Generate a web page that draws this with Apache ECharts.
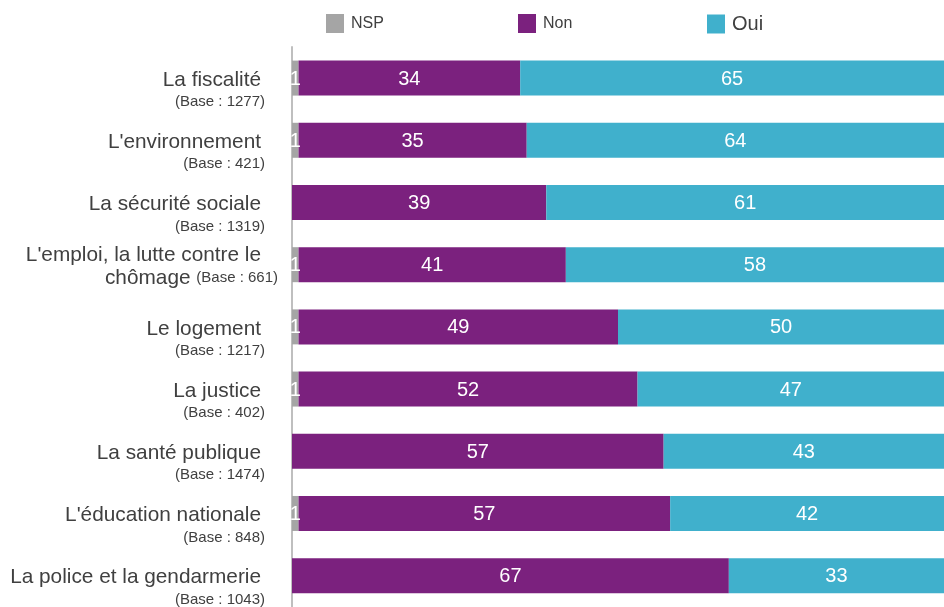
<!DOCTYPE html>
<html>
<head>
<meta charset="utf-8">
<script src="https://cdn.jsdelivr.net/npm/echarts@6/dist/echarts.min.js"></script>
<style>html,body{margin:0;padding:0;background:#fff}#c{width:944px;height:607px}</style>
</head>
<body>
<div id="c"></div>
<script>
var categories = ["La fiscalité", "L'environnement", "La sécurité sociale", "L'emploi, la lutte contre le\nchômage", "Le logement", "La justice", "La santé publique", "L'éducation nationale", "La police et la gendarmerie"];
var bases = [1277, 421, 1319, 661, 1217, 402, 1474, 848, 1043];
var nsp = [1, 1, 0, 1, 1, 1, 0, 1, 0];
var non = [34, 35, 39, 41, 49, 52, 57, 57, 67];
var oui = [65, 64, 61, 58, 50, 47, 43, 42, 33];

var chart = echarts.init(document.getElementById('c'));
var font = 'Arial, "Liberation Sans", sans-serif';
var labelText = function (v, i) {
  var b = '(Base : ' + bases[i] + ')';
  if (v.indexOf('\n') >= 0) {
    var p = v.split('\n');
    return '{e3|}\n{m2|' + p[0] + '}{sp|}\n{m2|' + p[1] + ' }{b2|' + b + '}';
  }
  return '{e|}\n{m|' + v + '}{sp|}\n{b|' + b + '}';
};
function barLabel(hideZero) {
  return {
    show: true, position: 'inside', color: '#fff', fontSize: 20, fontFamily: font, offset: [0, 1],
    formatter: function (p) { return (hideZero && p.value === 0) ? '' : p.value; }
  };
}
function leg(name, left, top, fs) {
  return {
    data: [name], left: left, top: top, padding: 0, icon: 'rect',
    itemWidth: 18, itemHeight: 19,
    textStyle: { fontSize: fs, color: '#404040', fontFamily: font, padding: [0, 0, 0, 2] }
  };
}
chart.setOption({
  animation: false,
  textStyle: { fontFamily: font },
  legend: [leg('NSP', 326, 14, 16), leg('Non', 518, 14, 16), leg('Oui', 707, 14, 20)],
  grid: { left: 292, right: 0, top: 47, height: 562.5, containLabel: false },
  xAxis: { type: 'value', min: 0, max: 100, show: false },
  yAxis: {
    type: 'category', data: categories, inverse: true,
    axisLine: { show: true, lineStyle: { color: '#bfbfbf', width: 2 } },
    axisTick: { show: false },
    axisLabel: {
      margin: 14, align: 'right', interval: 0, showMinLabel: true, showMaxLabel: true, hideOverlap: false,
      formatter: labelText,
      rich: {
        e: { fontSize: 15, lineHeight: 26, height: 26 },
        e3: { fontSize: 4, lineHeight: 4, height: 4 },
        m: { fontSize: 20.8, color: '#404040', lineHeight: 22, fontFamily: font },
        m2: { fontSize: 20.8, color: '#404040', lineHeight: 23, fontFamily: font },
        sp: { width: 17 },
        b: { fontSize: 15, color: '#404040', lineHeight: 22, fontFamily: font, padding: [0, 13, 0, 0] },
        b2: { fontSize: 15, color: '#404040', lineHeight: 23, fontFamily: font }
      }
    }
  },
  series: [
    { name: 'NSP', type: 'bar', stack: 's', data: nsp, barWidth: 35, itemStyle: { color: '#a5a5a5' }, label: barLabel(true) },
    { name: 'Non', type: 'bar', stack: 's', data: non, barWidth: 35, itemStyle: { color: '#7b217e' }, label: barLabel(false) },
    { name: 'Oui', type: 'bar', stack: 's', data: oui, barWidth: 35, itemStyle: { color: '#40b0cc' }, label: barLabel(false) }
  ]
});
</script>
</body>
</html>
